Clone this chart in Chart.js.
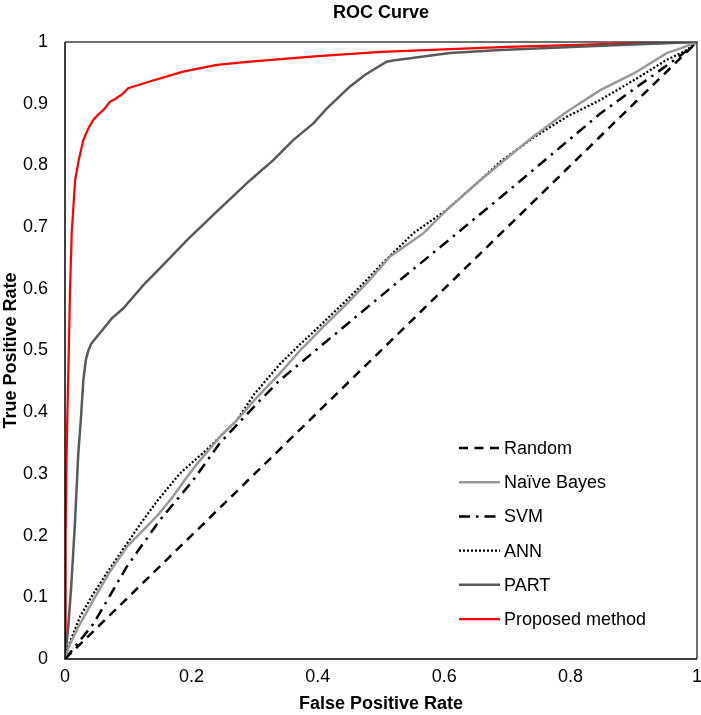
<!DOCTYPE html>
<html>
<head>
<meta charset="utf-8">
<script src="https://cdn.jsdelivr.net/npm/chart.js@4.4.0/dist/chart.umd.min.js"></script>
<style>
  html, body { margin: 0; padding: 0; background: #fff; }
</style>
</head>
<body>
<canvas id="roc" width="701" height="715"></canvas>
<script>
// ticks
const xTicks = [0, 0.2, 0.4, 0.6, 0.8, 1];
const yTicks = [0, 0.1, 0.2, 0.3, 0.4, 0.5, 0.6, 0.7, 0.8, 0.9, 1];

// series (FPR / TPR pairs)
const randomFpr = [0, 1];
const randomTpr = [0, 1];

const nbFpr = [0, 0.006, 0.02, 0.045, 0.07, 0.098, 0.12, 0.145, 0.17, 0.193, 0.208, 0.245, 0.272, 0.3, 0.34, 0.372, 0.41, 0.446, 0.48, 0.514, 0.567, 0.604, 0.657, 0.689, 0.741, 0.794, 0.847, 0.9, 0.952, 0.975, 1];
const nbTpr = [0, 0.02, 0.05, 0.096, 0.14, 0.182, 0.205, 0.231, 0.262, 0.295, 0.315, 0.36, 0.387, 0.42, 0.463, 0.5, 0.54, 0.576, 0.612, 0.652, 0.69, 0.728, 0.776, 0.803, 0.847, 0.887, 0.922, 0.949, 0.982, 0.99, 1];

const svmFpr = [0, 0.045, 0.098, 0.15, 0.203, 0.245, 0.3, 0.34, 0.53, 0.689, 0.847, 0.979, 1];
const svmTpr = [0, 0.057, 0.15, 0.225, 0.29, 0.35, 0.41, 0.452, 0.614, 0.748, 0.884, 0.982, 1];

const annFpr = [0, 0.003, 0.024, 0.045, 0.066, 0.098, 0.12, 0.145, 0.182, 0.224, 0.272, 0.3, 0.34, 0.372, 0.393, 0.446, 0.477, 0.499, 0.551, 0.604, 0.657, 0.689, 0.741, 0.794, 0.847, 0.9, 0.952, 0.984, 1];
const annTpr = [0, 0.015, 0.069, 0.106, 0.139, 0.187, 0.22, 0.255, 0.301, 0.339, 0.387, 0.43, 0.478, 0.51, 0.53, 0.582, 0.614, 0.638, 0.69, 0.728, 0.776, 0.806, 0.845, 0.879, 0.906, 0.938, 0.971, 0.987, 1];

const partFpr = [0, 0.005, 0.01, 0.016, 0.021, 0.025, 0.029, 0.033, 0.037, 0.042, 0.055, 0.074, 0.092, 0.124, 0.15, 0.193, 0.24, 0.293, 0.33, 0.361, 0.393, 0.414, 0.451, 0.475, 0.509, 0.525, 0.609, 0.688, 0.85, 1];
const partTpr = [0, 0.05, 0.12, 0.225, 0.333, 0.387, 0.452, 0.485, 0.5, 0.512, 0.528, 0.552, 0.568, 0.606, 0.633, 0.679, 0.725, 0.776, 0.809, 0.841, 0.868, 0.892, 0.928, 0.947, 0.968, 0.971, 0.982, 0.987, 0.994, 1];

const propFpr = [0, 0.001, 0.002, 0.0036, 0.006, 0.008, 0.0106, 0.016, 0.022, 0.029, 0.037, 0.045, 0.053, 0.061, 0.071, 0.08, 0.09, 0.1, 0.134, 0.187, 0.24, 0.293, 0.4, 0.5, 0.6, 0.7, 0.8, 0.9, 1];
const propTpr = [0, 0.2, 0.3, 0.39, 0.5, 0.6, 0.69, 0.776, 0.81, 0.841, 0.86, 0.874, 0.883, 0.89, 0.903, 0.908, 0.915, 0.925, 0.936, 0.952, 0.963, 0.968, 0.977, 0.984, 0.988, 0.992, 0.995, 0.998, 1];

const FONT = "'Liberation Sans', Arial, sans-serif";
const pts = (xs, ys) => xs.map((x, i) => ({x, y: ys[i]}));

function series(label, xs, ys, color, width, dash) {
  return {label, data: pts(xs, ys), borderColor: color, backgroundColor: color,
    borderWidth: width, borderDash: dash, borderCapStyle: "butt",
    pointRadius: 0, fill: false, tension: 0};
}

// box round the plot plus the key in its lower right corner
const frameAndKey = {
  id: "frameAndKey",
  afterDatasetsDraw(chart) {
    const {ctx, chartArea: a} = chart;
    ctx.save();
    ctx.lineWidth = 1.5;
    ctx.strokeStyle = "#404040";
    ctx.beginPath();
    ctx.moveTo(a.left, a.top); ctx.lineTo(a.right, a.top); ctx.lineTo(a.right, a.bottom);
    ctx.stroke();
    ctx.strokeStyle = "#000";
    ctx.beginPath();
    ctx.moveTo(a.left, a.top); ctx.lineTo(a.left, a.bottom); ctx.lineTo(a.right, a.bottom);
    ctx.stroke();

    const x0 = a.left + 394, y0 = a.top + 406, row = 34.2;
    ctx.font = "18px " + FONT;
    ctx.textBaseline = "middle";
    ctx.textAlign = "left";
    chart.data.datasets.forEach((ds, i) => {
      const y = y0 + i * row;
      ctx.strokeStyle = ds.borderColor;
      ctx.lineWidth = ds.borderWidth;
      ctx.setLineDash(ds.borderDash || []);
      ctx.beginPath(); ctx.moveTo(x0, y); ctx.lineTo(x0 + 41, y); ctx.stroke();
      ctx.setLineDash([]);
      ctx.fillStyle = "#000";
      ctx.fillText(ds.label, x0 + 45, y + 1);
    });
    ctx.restore();
  }
};

new Chart(document.getElementById("roc"), {
  type: "line",
  data: {
    datasets: [
      series("Random", randomFpr, randomTpr, "#000", 2.5, [9, 6.5]),
      series("Naïve Bayes", nbFpr, nbTpr, "#999999", 2.5, []),
      series("SVM", svmFpr, svmTpr, "#000", 2.5, [11, 6, 2.5, 6]),
      series("ANN", annFpr, annTpr, "#000", 2.25, [2, 2]),
      series("PART", partFpr, partTpr, "#595959", 2.5, []),
      series("Proposed method", propFpr, propTpr, "#ff0000", 2.25, []),
    ],
  },
  options: {
    responsive: false, animation: false,
    layout: {padding: {top: 0, right: 4, bottom: 0, left: 0}},
    plugins: {legend: {display: false}, tooltip: {enabled: false}, title: {display: false}},
    scales: {
      x: {
        type: "linear", min: 0, max: 1, position: "bottom",
        afterBuildTicks: s => { s.ticks = xTicks.map(v => ({value: v})); },
        afterFit: s => { s.height = 56; s.paddingLeft = 0; s.paddingRight = 0; },
        grid: {display: false, drawTicks: false}, border: {display: false},
        ticks: {color: "#000", padding: 7, font: {family: FONT, size: 18}, callback: v => String(+(+v).toFixed(1))},
        title: {display: true, text: "False Positive Rate", color: "#000", padding: 0,
                font: {family: FONT, size: 18, weight: "bold"}},
      },
      top: {
        type: "linear", min: 0, max: 1, position: "top",
        afterFit: s => { s.height = 42; s.paddingLeft = 0; s.paddingRight = 0; },
        grid: {display: false, drawTicks: false}, border: {display: false},
        ticks: {display: false},
        title: {display: true, text: "ROC Curve", color: "#000", padding: {top: 2, bottom: 0},
                font: {family: FONT, size: 18, weight: "bold"}},
      },
      y: {
        type: "linear", min: 0, max: 1,
        afterBuildTicks: s => { s.ticks = yTicks.map(v => ({value: v})); },
        afterFit: s => { s.width = 65; s.paddingTop = 0; s.paddingBottom = 0; },
        grid: {display: false, drawTicks: false}, border: {display: false},
        ticks: {color: "#000", padding: 17, font: {family: FONT, size: 18}, callback: v => String(+(+v).toFixed(1))},
        title: {display: true, text: "True Positive Rate", color: "#000", padding: 0,
                font: {family: FONT, size: 18, weight: "bold"}},
      },
    },
  },
  plugins: [frameAndKey],
});
</script>
</body>
</html>
